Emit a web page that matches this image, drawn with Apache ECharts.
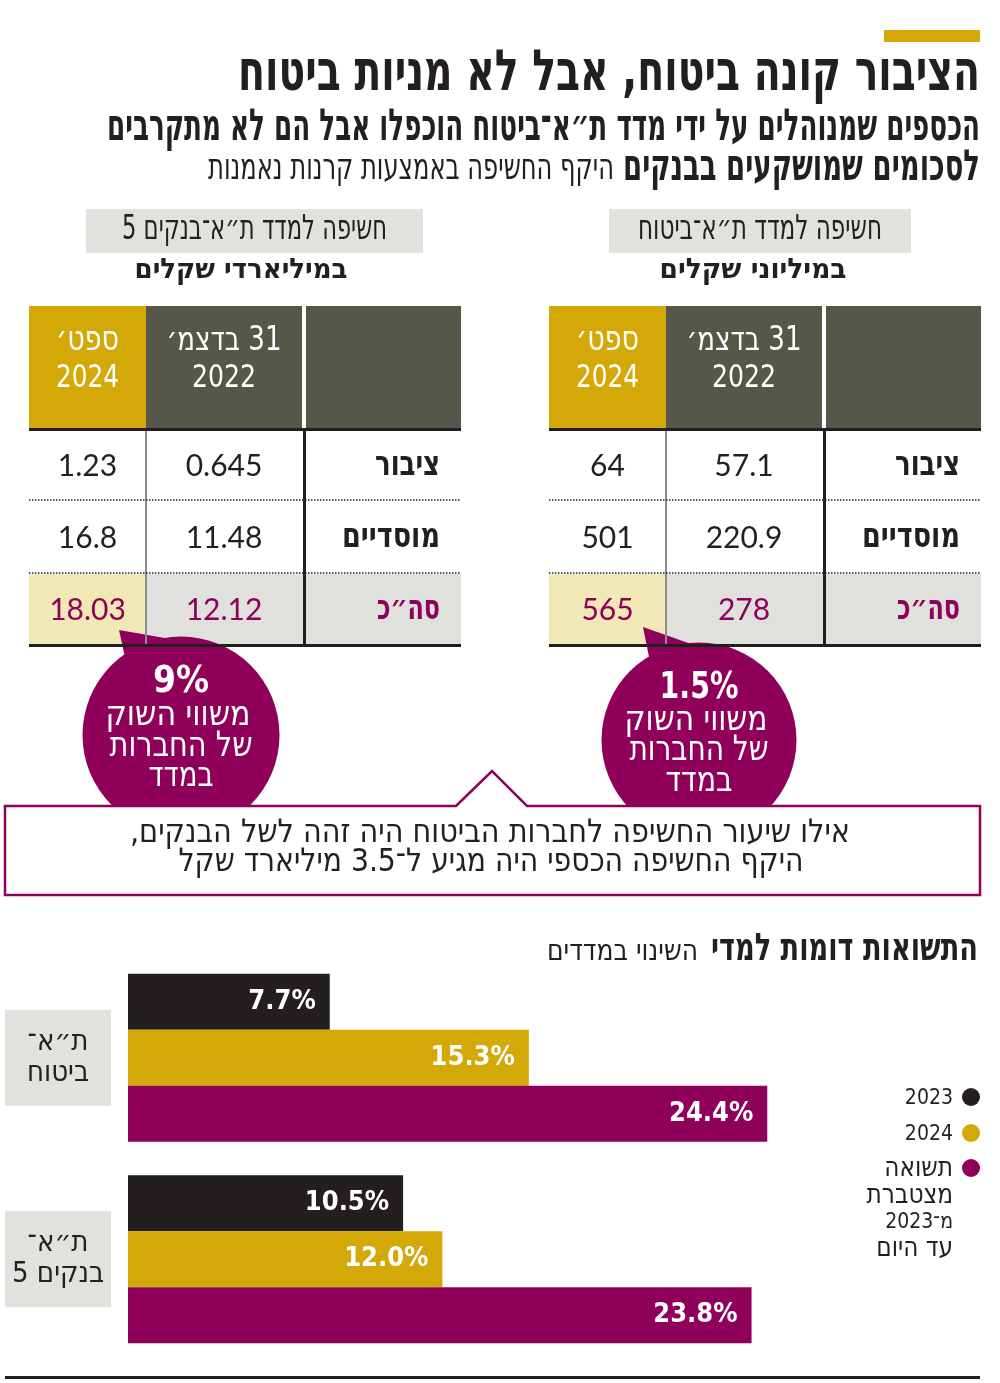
<!DOCTYPE html>
<html><head><meta charset="utf-8">
<script src="https://cdn.jsdelivr.net/npm/echarts@6/dist/echarts.min.js"></script>
<style>html,body{margin:0;padding:0;background:#fff}#c{width:1000px;height:1383px;direction:rtl}</style>
</head><body><div id="c"></div>
<script>
// ---------- DATA ----------
const title = 'הציבור קונה ביטוח, אבל לא מניות ביטוח';
const subtitleLine1 = 'הכספים שמנוהלים על ידי מדד ת״א־ביטוח הוכפלו אבל הם לא מתקרבים';
const subtitleLine2Bold = 'לסכומים שמושקעים בבנקים';
const subtitleLine2 = 'היקף החשיפה באמצעות קרנות נאמנות';

const tableTitles = ['חשיפה למדד ת״א־ביטוח', 'חשיפה למדד ת״א־בנקים 5'];
const tableUnits = ['במיליוני שקלים', 'במיליארדי שקלים'];
const headerDec2022 = ['31 בדצמ׳', '2022'];
const headerSep2024 = ['ספט׳', '2024'];
const rowLabels = ['ציבור', 'מוסדיים', 'סה״כ'];
const insurance2022 = [57.1, 220.9, 278];
const insurance2024 = [64, 501, 565];
const banks2022 = [0.645, 11.48, 12.12];
const banks2024 = [1.23, 16.8, 18.03];

const marketShare = [1.5, 9];           // insurance, banks
const circleCaption = ['משווי השוק', 'של החברות', 'במדד'];
const calloutLines = ['אילו שיעור החשיפה לחברות הביטוח היה זהה לשל הבנקים,', 'היקף החשיפה הכספי היה מגיע ל־3.5 מיליארד שקל'];

const returnsTitleBold = 'התשואות דומות למדי';
const returnsTitle = 'השינוי במדדים';
const indexCategories = ['ת״א־\nביטוח', 'ת״א־\nבנקים 5'];
const return2023 = [7.7, 10.5];
const return2024 = [15.3, 12.0];
const returnCumulative = [24.4, 23.8];
const seriesNames = ['2023', '2024', 'תשואה\nמצטברת\nמ־2023\nעד היום'];

// ---------- STYLE ----------
const INK = '#231f20', GOLD = '#d4a806', PURPLE = '#8f005a', DARK = '#56564b';
const GRAYBOX = '#e1e1dd', LIGHTY = '#f0e8b5', GRAYROW = '#e0e0dc';
const HEB = 'DejaVu Sans Condensed';
const NUM = 'Lato';
const seriesColors = [INK, GOLD, PURPLE];

const mctx = document.createElement('canvas').getContext('2d');
function tw(text, size, weight, family) { mctx.font = weight + ' ' + size + 'px ' + family; return mctx.measureText(text).width; }
function txt(text, x, y, o) {
  o = o || {};
  const size = o.size || 26, weight = o.weight || 'normal', family = o.family || HEB;
  let sx = o.sx || 1;
  if (o.w) sx = o.w / tw(text, size, weight, family);
  return { type: 'text', x: x, y: y, scaleX: sx, scaleY: 1, z: o.z || 10,
    style: { text: text, fill: o.fill || INK, fontSize: size, fontWeight: weight, fontFamily: family,
      textAlign: o.align || 'right', textVerticalAlign: 'middle' } };
}
function rect(x, y, w, h, fill, z) { return { type: 'rect', z: z || 1, shape: { x: x, y: y, width: w, height: h }, style: { fill: fill } }; }

const G = [];
// header
G.push(rect(884, 30, 96, 12, GOLD));
G.push(txt(title, 980, 75, { size: 57, weight: 'bold', w: 742 }));
G.push(txt(subtitleLine1, 980, 129, { size: 44, weight: 'bold', w: 873 }));
G.push(txt(subtitleLine2Bold, 980, 169, { size: 43, weight: 'bold', w: 357 }));
G.push(txt(subtitleLine2, 614, 170, { size: 36, w: 406 }));

// tables
function buildTable(x0, boxX, boxW, tTitle, tW, unit, uCenter, uW, v2022, v2024) {
  const cx = boxX + boxW / 2;
  G.push(rect(boxX, 209, boxW, 44, GRAYBOX));
  G.push(txt(tTitle, cx, 230, { size: 34, w: tW, align: 'center' }));
  G.push(txt(unit, uCenter, 271, { size: 28, weight: 'bold', w: uW, align: 'center' }));
  // header cells
  G.push(rect(x0, 306, 117, 122, GOLD));
  G.push(rect(x0 + 117, 306, 156, 122, DARK));
  G.push(rect(x0 + 277, 306, 155, 122, DARK));
  const cA = x0 + 58.5, cB = x0 + 195;
  G.push(txt(headerSep2024[0], cA, 341, { size: 34, w: 63, align: 'center', fill: '#fff' }));
  G.push(txt(headerSep2024[1], cA, 379, { size: 32, w: 63, align: 'center', fill: '#fff' }));
  G.push(txt(headerDec2022[0], cB, 341, { size: 33, w: 115, align: 'center', fill: '#fff' }));
  G.push(txt(headerDec2022[1], cB, 379, { size: 32, w: 64, align: 'center', fill: '#fff' }));
  // total row background
  G.push(rect(x0, 574, 117, 70, LIGHTY));
  G.push(rect(x0 + 117, 574, 315, 70, GRAYROW));
  // lines
  G.push(rect(x0, 428, 432, 3, INK, 8));
  G.push(rect(x0 + 116, 431, 2, 213, '#8c8c8c', 8));
  G.push(rect(x0 + 274, 431, 3, 213, INK, 8));
  [500, 573].forEach(function (y) {
    G.push({ type: 'line', z: 8, shape: { x1: x0, y1: y, x2: x0 + 432, y2: y }, style: { stroke: INK, lineWidth: 1.5, lineDash: [1.5, 1.5] } });
  });
  G.push(rect(x0, 644, 432, 3, INK, 8));
  const rowY = [466, 538, 610];
  const labW = [65, 98, 63];
  rowLabels.forEach(function (lab, i) {
    const col = i === 2 ? PURPLE : INK;
    G.push(txt(lab, x0 + 411, rowY[i], { size: 34, weight: 'bold', w: labW[i], fill: col }));
    G.push(txt(String(v2024[i]), cA, rowY[i], { size: 30, family: NUM, align: 'center', fill: col }));
    G.push(txt(String(v2022[i]), cB, rowY[i], { size: 30, family: NUM, align: 'center', fill: col }));
  });
}
buildTable(549, 609, 302, tableTitles[0], 244, tableUnits[0], 753, 187, insurance2022, insurance2024);
buildTable(29, 86, 337, tableTitles[1], 265, tableUnits[1], 241, 213, banks2022, banks2024);

// circles
function bubble(cx, cy, r, tip, b1, b2, pct, pctY, pctW, capY, capW) {
  G.push({ type: 'circle', z: 5, shape: { cx: cx, cy: cy, r: r }, style: { fill: PURPLE } });
  G.push({ type: 'polygon', z: 5, shape: { points: [tip, b1, b2] }, style: { fill: PURPLE } });
  G.push(txt(pct + '%', cx, pctY, { size: 38, weight: 'bold', w: pctW, align: 'center', fill: '#fff', z: 6 }));
  circleCaption.forEach(function (c, i) {
    G.push(txt(c, cx - (i === 0 ? 3 : 0), capY[i], { size: 35, w: capW[i], align: 'center', fill: '#fff', z: 6 }));
  });
}
bubble(699, 740, 97.5, [643, 627], [650, 662], [694, 645], marketShare[0], 688, 79, [721, 751, 782], [143, 139, 67]);
bubble(181, 735, 98.5, [119, 630], [126, 662], [176, 640], marketShare[1], 682, 56, [716, 747, 777], [145, 143, 65]);

// callout
G.push({ type: 'polygon', z: 7, shape: { points: [[5, 806], [456, 806], [492, 771], [527, 806], [980, 806], [980, 895], [5, 895]] },
  style: { fill: '#fff', stroke: PURPLE, lineWidth: 2.5 } });
G.push(txt(calloutLines[0], 490, 834, { size: 32, w: 720, align: 'center', z: 8 }));
G.push(txt(calloutLines[1], 491, 863, { size: 32, w: 625, align: 'center', z: 8 }));

// returns section title
G.push(txt(returnsTitleBold, 978, 950, { size: 38, weight: 'bold', w: 267 }));
G.push(txt(returnsTitle, 698, 952, { size: 30, w: 151 }));

// legend
const legY = [1098, 1134, 1169];
seriesNames.forEach(function (n, i) {
  G.push({ type: 'circle', z: 5, shape: { cx: 971, cy: legY[i] - 1, r: 9 }, style: { fill: seriesColors[i] } });
  n.split('\n').forEach(function (line, j) {
    const hasDigits = /[0-9]/.test(line);
    G.push(txt(line, 953, legY[i] + j * 26.5, { size: hasDigits ? 22 : 27, family: 'DejaVu Sans', sx: 0.86 }));
  });
});

// bottom rule
G.push(rect(5, 1376, 975, 3, INK));

// ---------- CHART ----------
const chart = echarts.init(document.getElementById('c'), null, { renderer: 'canvas' });
const barData = [return2023, return2024, returnCumulative];
const option = {
  animation: false,
  backgroundColor: '#fff',
  grid: { left: 128, top: 957, width: 786, height: 403, containLabel: false },
  xAxis: { type: 'value', min: 0, max: 30, show: false },
  yAxis: {
    type: 'category', data: indexCategories, inverse: true,
    axisLine: { show: false }, axisTick: { show: false }, splitLine: { show: false },
    axisLabel: { margin: 70, align: 'center', verticalAlign: 'middle', width: 106, padding: [18, 0, 16, 0], lineHeight: 31,
      backgroundColor: GRAYBOX, color: INK, fontSize: 29, fontFamily: HEB }
  },
  series: barData.map(function (d, i) {
    return {
      type: 'bar', name: seriesNames[i], data: d, barWidth: 56, barGap: '0%',
      itemStyle: { color: seriesColors[i] },
      label: { show: true, position: 'insideRight', distance: 14, color: '#fff', fontSize: 27, fontWeight: 'bold', fontFamily: HEB,
        formatter: function (p) { return p.value.toFixed(1) + '%'; } }
    };
  }),
  graphic: { elements: G }
};
chart.setOption(option);
</script></body></html>
